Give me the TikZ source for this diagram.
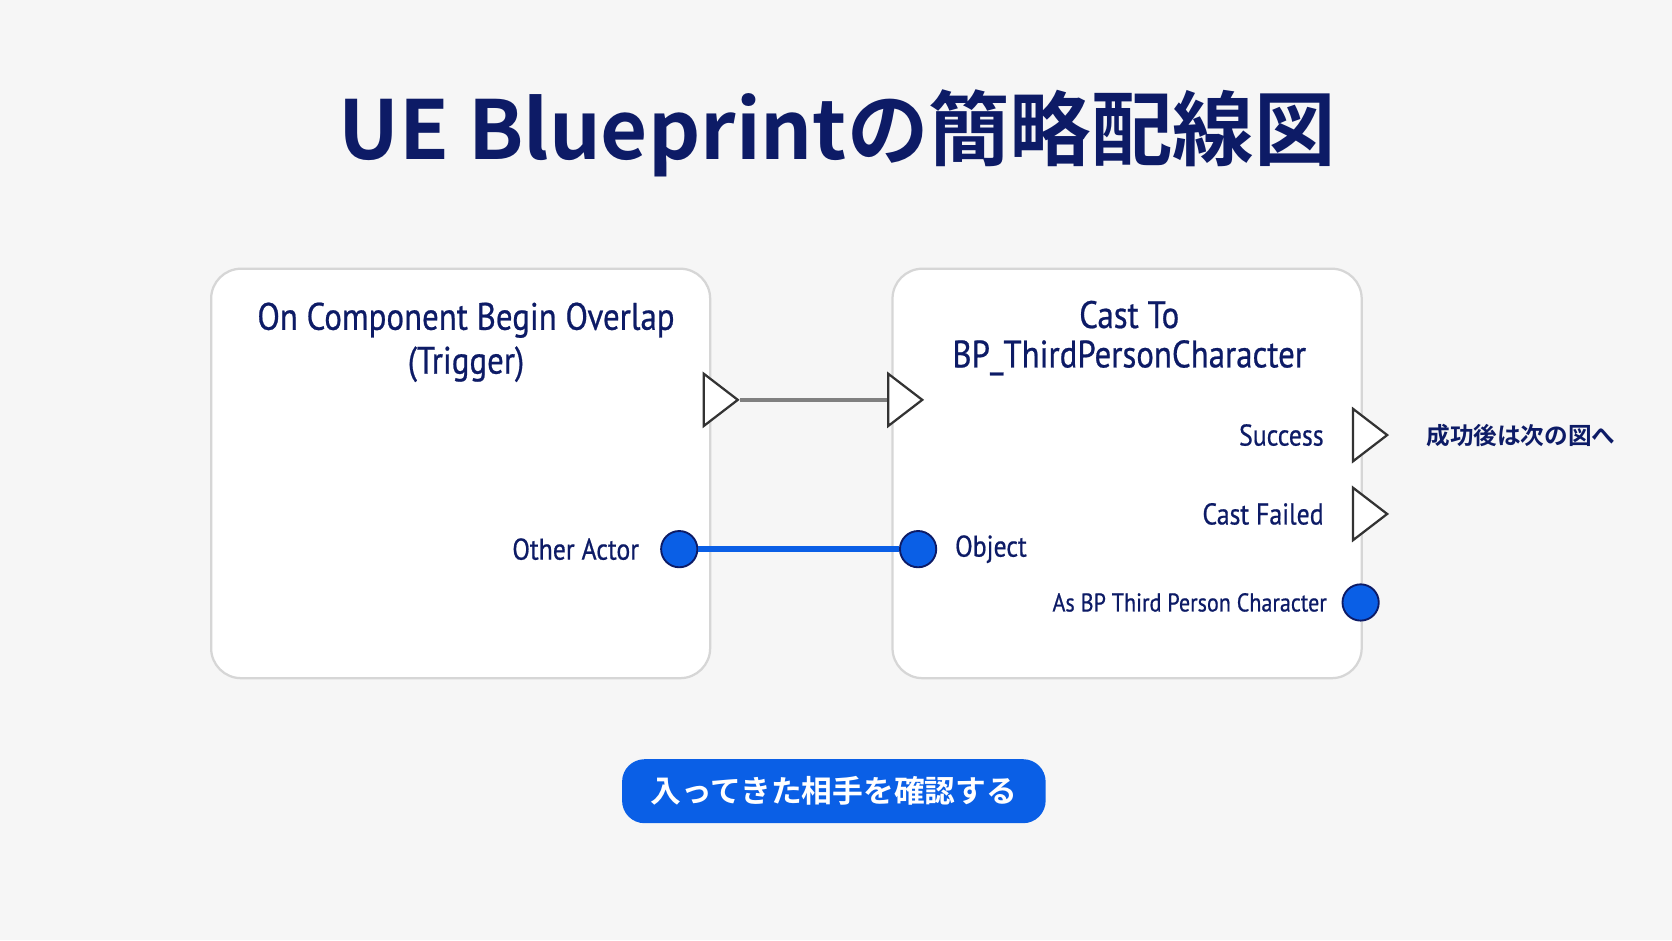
\documentclass[tikz,border=0pt]{standalone}
\usepackage{fontspec}
\setmainfont{Noto Sans CJK JP}
\newfontfamily\cjkbold{Noto Sans CJK JP Bold}
\newfontfamily\pinfont[FakeStretch=0.86,FakeBold=0.6]{PT Sans}
\usetikzlibrary{shapes.geometric,positioning}
\definecolor{navy}{HTML}{0D1B66}
\definecolor{pinblue}{HTML}{0A5FE6}
\definecolor{bordergray}{HTML}{D6D6D6}
\definecolor{bg}{HTML}{F6F6F6}
\tikzset{
  nodebox/.style={draw=bordergray,fill=white,rounded corners=8pt,line width=0.6pt},
  exec/.style={isosceles triangle,isosceles triangle apex angle=75,draw=black!80,fill=white,
    line width=0.6pt,minimum height=0.32cm,inner sep=0pt},
  data/.style={circle,fill=pinblue,draw=navy,line width=0.5pt,minimum size=0.34cm,inner sep=0pt},
  lbl/.style={text=navy,font=\pinfont\fontsize{8}{10}\selectfont,inner sep=0pt},
  head/.style={lbl,align=center,font=\pinfont\fontsize{10.2}{10.5}\selectfont},
}
\begin{document}
\begin{tikzpicture}[x=0.01cm,y=-0.01cm]
\fill[bg] (0,0) rectangle (1568,882);
\useasboundingbox (0,0) rectangle (1568,882);
% title
\node[text=navy,font=\cjkbold\fontsize{21.7}{26}\selectfont] (title) at (785,125) {UE Blueprintの簡略配線図};
% boxes
\draw[nodebox] (198,252) rectangle (666,636);
\draw[nodebox] (837,252) rectangle (1277,636);
\node[head,font=\pinfont\fontsize{10.2}{11.7}\selectfont] (evt) at (437,321) {On Component Begin Overlap\\(Trigger)};
\node[head] (cast) at (1059,317) {Cast To\\BP\_ThirdPersonCharacter};
% pins
\node[exec] (evtout) at (672,375) {};
\node[exec] (castin) at (845,375) {};
\node[exec] (succ) at (1281,408) {};
\node[exec] (fail) at (1281,482) {};
\node[data] (actor) at (637,515) {};
\node[data] (obj) at (861,515) {};
\node[data] (aschar) at (1276,565) {};
% labels
\node[lbl,anchor=east] at (600,515) {Other Actor};
\node[lbl,anchor=west] at (895,515) {Object};
\node[lbl,anchor=east] at (1242,408) {Success};
\node[lbl,anchor=east] at (1242,482) {Cast Failed};
\node[lbl,anchor=east,font=\pinfont\fontsize{6.85}{9}\selectfont] at (1245,565) {As BP Third Person Character};
\node[lbl,anchor=west,font=\cjkbold\fontsize{6.3}{8}\selectfont] at (1337,408) {成功後は次の図へ};
% wires
\draw[gray,line width=1.2pt] (evtout.apex) -- (castin.west);
\draw[pinblue,line width=1.5pt] (actor) -- (obj);
% caption
\node[fill=pinblue,rounded corners=6pt,minimum width=3.97cm,minimum height=0.6cm,
  text=white,font=\cjkbold\fontsize{8.2}{10}\selectfont] (note) at (782,742) {入ってきた相手を確認する};
\end{tikzpicture}
\end{document}
